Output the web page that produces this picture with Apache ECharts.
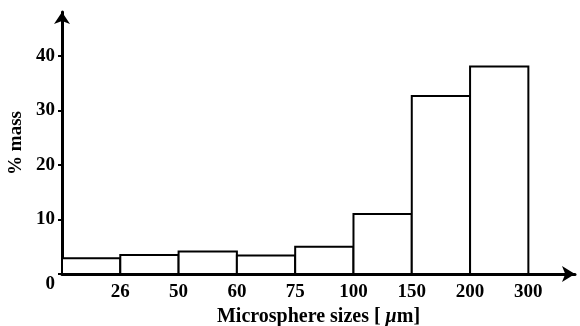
<!DOCTYPE html>
<html>
<head>
<meta charset="utf-8">
<script src="https://cdn.jsdelivr.net/npm/echarts@6/dist/echarts.min.js"></script>
<style>
  html, body { margin: 0; padding: 0; background: #fff; }
  #main { width: 580px; height: 326px; }
</style>
</head>
<body>
<div id="main"></div>
<script>
// bin edges (tick labels) and % mass per bin
var binEdges = ['0', '26', '50', '60', '75', '100', '150', '200', '300'];
var massPct = [2.9, 3.5, 4.1, 3.4, 5.0, 11.0, 32.6, 38.0];
var yTicks = [10, 20, 30, 40];

var chart = echarts.init(document.getElementById('main'));
var font = 'Liberation Serif';

var barData = massPct.map(function (v, i) { return [i, v]; });

var option = {
    animation: false,
    grid: { left: 62, right: 5, top: 12, bottom: 52, outerBoundsMode: 'none', containLabel: false },
    xAxis: {
        type: 'value',
        min: 0,
        max: 8.8,
        interval: 1,
        name: 'Microsphere sizes [ {mu|\u03bc}m]',
        nameLocation: 'middle',
        nameGap: 28,
        nameTextStyle: {
            color: '#000', fontFamily: font, fontWeight: 'bold', fontSize: 20,
            rich: { mu: { fontFamily: font, fontStyle: 'italic', fontWeight: 'bold', fontSize: 20 } }
        },
        axisLine: {
            show: true,
            symbol: ['none', 'arrow'],
            symbolSize: [12, 13],
            lineStyle: { color: '#000', width: 3 }
        },
        axisTick: { show: false },
        splitLine: { show: false },
        axisLabel: {
            color: '#000', fontFamily: font, fontWeight: 'bold', fontSize: 19, margin: 9,
            showMaxLabel: false,
            formatter: function (v) {
                if (v === 0 || v % 1 !== 0) return '';
                return binEdges[v] || '';
            }
        }
    },
    yAxis: {
        type: 'value',
        min: 0,
        max: 48,
        interval: 10,
        name: '% mass',
        nameLocation: 'middle',
        nameRotate: 90,
        nameGap: 34,
        nameTextStyle: { color: '#000', fontFamily: font, fontWeight: 'bold', fontSize: 19 },
        axisLine: {
            show: true,
            symbol: ['none', 'arrow'],
            symbolSize: [12, 12],
            lineStyle: { color: '#000', width: 3 }
        },
        axisTick: { show: true, length: 4, lineStyle: { color: '#000', width: 2 } },
        splitLine: { show: false },
        axisLabel: {
            color: '#000', fontFamily: font, fontWeight: 'bold', fontSize: 19, margin: 7,
            showMaxLabel: false,
            formatter: function (v) {
                if (v === 0) return '{z|0}';
                return yTicks.indexOf(v) >= 0 ? String(v) : '';
            },
            rich: { z: { padding: [20, 0, 0, 0], fontFamily: font, fontWeight: 'bold', fontSize: 19, color: '#000' } }
        }
    },
    series: [{
        type: 'custom',
        data: barData,
        renderItem: function (params, api) {
            var i = api.value(0);
            var p0 = api.coord([i, 0]);
            var p1 = api.coord([i + 1, api.value(1)]);
            return {
                type: 'rect',
                shape: { x: p0[0], y: p1[1], width: p1[0] - p0[0], height: p0[1] - p1[1] },
                style: { fill: '#fff', stroke: '#000', lineWidth: 2 }
            };
        },
        z: 1
    }]
};
chart.setOption(option);
</script>
</body>
</html>
